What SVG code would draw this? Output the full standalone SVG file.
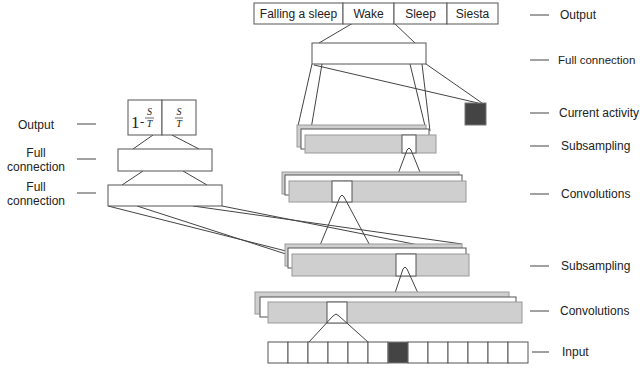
<svg xmlns="http://www.w3.org/2000/svg" width="640" height="370" viewBox="0 0 640 370">
<style>
.bx{fill:#fff;stroke:#555;stroke-width:1}
.g{fill:#cfcfcf;stroke:#999;stroke-width:1}
.w{fill:#fff;stroke:#555;stroke-width:1}
.dk{fill:#444;stroke:#777;stroke-width:1}
.t{font-family:"Liberation Sans",Arial,sans-serif;font-size:12px;fill:#222}
.m{font-family:"Liberation Serif","DejaVu Serif",serif;fill:#222}
.dash{stroke:#444;stroke-width:1}
#connectors line,#connectors polyline,#connectors path{stroke:#444;stroke-width:1;fill:none}
</style>
<rect width="640" height="370" fill="#fff"/>

<g id="connectors">
  <line x1="353" y1="23" x2="319" y2="43"/>
  <line x1="394" y1="23" x2="415" y2="43"/>
  <line x1="314" y1="65" x2="478" y2="103"/>
  <line x1="426" y1="64" x2="482" y2="103"/>
  <line x1="312" y1="64" x2="298" y2="126"/>
  <line x1="322" y1="64" x2="310" y2="135"/>
  <line x1="410" y1="64" x2="425" y2="126"/>
  <line x1="422" y1="64" x2="430" y2="131"/>
  <line x1="153" y1="135" x2="133" y2="149"/>
  <line x1="172" y1="135" x2="199" y2="149"/>
  <line x1="143" y1="171" x2="122" y2="185"/>
  <line x1="183" y1="171" x2="207" y2="185"/>
  <line x1="108" y1="206" x2="286" y2="251"/>
  <line x1="137" y1="206" x2="292" y2="256"/>
  <line x1="193" y1="206" x2="462" y2="244"/>
  <line x1="222" y1="206" x2="469" y2="255"/>
</g>

<g id="output-top">
  <rect class="bx" x="254" y="3" width="89" height="21"/>
  <rect class="bx" x="343" y="3" width="51" height="21"/>
  <rect class="bx" x="394" y="3" width="53" height="21"/>
  <rect class="bx" x="447" y="3" width="51" height="21"/>
  <text class="t" x="298.5" y="18" text-anchor="middle">Falling a sleep</text>
  <text class="t" x="368.5" y="18" text-anchor="middle">Wake</text>
  <text class="t" x="420.5" y="18" text-anchor="middle">Sleep</text>
  <text class="t" x="472.5" y="18" text-anchor="middle">Siesta</text>
</g>

<g id="fc-right">
  <rect class="bx" x="312" y="43" width="114" height="21"/>
</g>

<g id="current-activity">
  <rect class="dk" x="465" y="103" width="21" height="22"/>
</g>

<g id="subsampling-upper">
  <rect class="g" x="297" y="125" width="129" height="22"/>
  <rect class="w" x="301" y="129" width="128" height="20"/>
  <rect class="g" x="305" y="135" width="131" height="18"/>
  <rect class="w" x="402" y="135" width="14" height="18"/>
  <polyline points="395,182 407,150 409,148 411,150 424,182" style="stroke:#444;fill:none"/>
</g>

<g id="convolutions-upper">
  <rect class="g" x="282" y="172" width="177" height="22"/>
  <rect class="w" x="285" y="175" width="177" height="20"/>
  <rect class="g" x="289" y="181" width="177" height="21"/>
  <rect class="w" x="332" y="181" width="20" height="21"/>
  <polyline points="316,255 340,197 342,195 344,197 375,255" style="stroke:#444;fill:none"/>
</g>

<g id="subsampling-lower">
  <rect class="g" x="285" y="244" width="177" height="22"/>
  <rect class="w" x="288" y="248" width="178" height="20"/>
  <rect class="g" x="292" y="254" width="177" height="22"/>
  <rect class="w" x="396" y="254" width="20" height="22"/>
  <polyline points="392,302 403,269 405,267 407,269 422,302" style="stroke:#444;fill:none"/>
</g>

<g id="convolutions-lower">
  <rect class="g" x="255" y="292" width="254" height="22"/>
  <rect class="w" x="260" y="297" width="256" height="20"/>
  <rect class="g" x="268" y="302" width="254" height="21"/>
  <rect class="w" x="327" y="302" width="20" height="21"/>
  <polyline points="309,342 333,316 336,314 339,316 368,342" style="stroke:#444;fill:none"/>
</g>

<g id="input">
  <rect class="bx" x="268" y="342" width="20" height="21"/>
  <rect class="bx" x="288" y="342" width="20" height="21"/>
  <rect class="bx" x="308" y="342" width="20" height="21"/>
  <rect class="bx" x="328" y="342" width="20" height="21"/>
  <rect class="bx" x="348" y="342" width="20" height="21"/>
  <rect class="bx" x="368" y="342" width="20" height="21"/>
  <rect class="dk" x="388" y="342" width="20" height="21"/>
  <rect class="bx" x="408" y="342" width="20" height="21"/>
  <rect class="bx" x="428" y="342" width="20" height="21"/>
  <rect class="bx" x="448" y="342" width="20" height="21"/>
  <rect class="bx" x="468" y="342" width="20" height="21"/>
  <rect class="bx" x="488" y="342" width="20" height="21"/>
  <rect class="bx" x="508" y="342" width="20" height="21"/>
</g>

<g id="output-left">
  <rect class="bx" x="128" y="100" width="34" height="35"/>
  <rect class="bx" x="162" y="100" width="34" height="35"/>
  <text class="m" x="131" y="128" font-size="17">1</text>
  <text class="m" x="140" y="126" font-size="13">-</text>
  <text class="m" x="149.5" y="115" font-size="10" font-style="italic" text-anchor="middle">S</text>
  <line x1="145" y1="118" x2="154" y2="118" stroke="#444" stroke-width="0.8"/>
  <text class="m" x="149.5" y="127" font-size="10" font-style="italic" text-anchor="middle">T</text>
  <text class="m" x="179" y="115" font-size="10" font-style="italic" text-anchor="middle">S</text>
  <line x1="175" y1="118" x2="183" y2="118" stroke="#444" stroke-width="0.8"/>
  <text class="m" x="179" y="127" font-size="10" font-style="italic" text-anchor="middle">T</text>
</g>

<g id="fc-left-1">
  <rect class="bx" x="118" y="149" width="94" height="22"/>
</g>
<g id="fc-left-2">
  <rect class="bx" x="108" y="185" width="114" height="21"/>
</g>

<g id="labels-left">
  <text class="t" x="36" y="129" text-anchor="middle">Output</text>
  <line class="dash" x1="77" y1="124" x2="96" y2="124"/>
  <text class="t" x="36" y="157" text-anchor="middle">Full</text>
  <text class="t" x="36" y="171" text-anchor="middle">connection</text>
  <line class="dash" x1="77" y1="159" x2="96" y2="159"/>
  <text class="t" x="36" y="191" text-anchor="middle">Full</text>
  <text class="t" x="36" y="205" text-anchor="middle">connection</text>
  <line class="dash" x1="77" y1="193" x2="96" y2="193"/>
</g>

<g id="labels-right">
  <line class="dash" x1="530" y1="15" x2="549" y2="15"/>
  <text class="t" x="560" y="19">Output</text>
  <line class="dash" x1="530" y1="60" x2="549" y2="60"/>
  <text class="t" x="558" y="64" style="font-size:11.5px">Full connection</text>
  <line class="dash" x1="530" y1="113" x2="549" y2="113"/>
  <text class="t" x="559" y="117">Current activity</text>
  <line class="dash" x1="530" y1="146" x2="549" y2="146"/>
  <text class="t" x="561" y="150">Subsampling</text>
  <line class="dash" x1="530" y1="194" x2="549" y2="194"/>
  <text class="t" x="561" y="198">Convolutions</text>
  <line class="dash" x1="530" y1="266" x2="549" y2="266"/>
  <text class="t" x="561" y="270">Subsampling</text>
  <line class="dash" x1="530" y1="311" x2="549" y2="311"/>
  <text class="t" x="560" y="315">Convolutions</text>
  <line class="dash" x1="532" y1="352" x2="549" y2="352"/>
  <text class="t" x="562" y="356">Input</text>
</g>
</svg>
